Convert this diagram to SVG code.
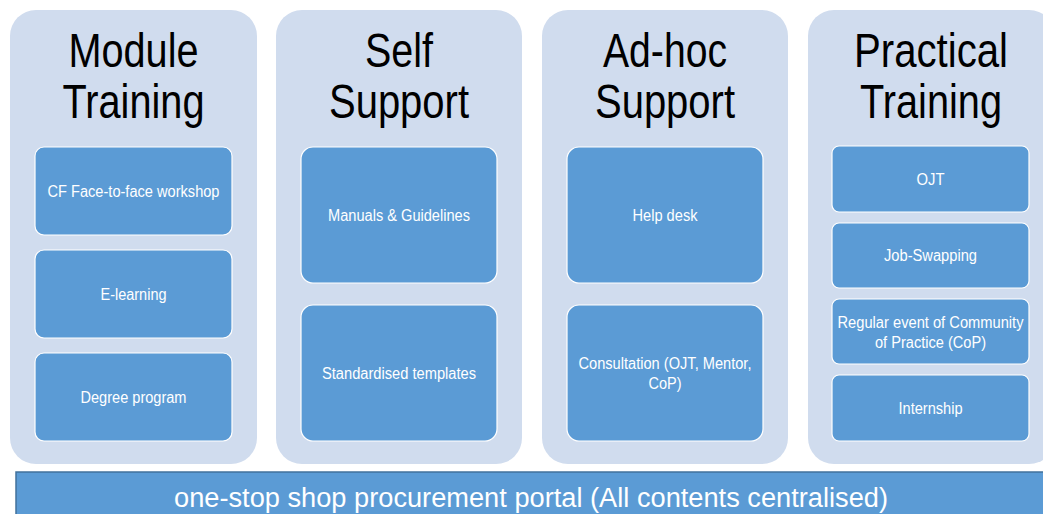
<svg xmlns="http://www.w3.org/2000/svg" width="1043" height="514" viewBox="0 0 1043 514">
<style>
.panel{fill:#d0dcee;}
.box{fill:#5b9bd5;stroke:#ffffff;stroke-width:1.2;}
.title{font-family:"Liberation Sans",Arial,sans-serif;font-size:48px;fill:#000000;text-anchor:middle;}
.lbl{font-family:"Liberation Sans",Arial,sans-serif;font-size:16px;fill:#ffffff;text-anchor:middle;}
.bar{fill:#5b9bd5;stroke:#41719c;stroke-width:1.5;}
.bartxt{font-family:"Liberation Sans",Arial,sans-serif;font-size:27px;fill:#ffffff;text-anchor:middle;}
</style>
<rect width="1043" height="514" fill="#ffffff"/>
<g id="panel-module-training">
<rect class="panel" x="10" y="10" width="247" height="454" rx="26"/>
<text class="title" x="133.5" y="67" textLength="130" lengthAdjust="spacingAndGlyphs">Module</text>
<text class="title" x="133.5" y="118" textLength="142" lengthAdjust="spacingAndGlyphs">Training</text>
</g>
<g id="node-cf-workshop">
<rect class="box" x="35" y="147" width="197" height="88" rx="9"/>
<text class="lbl" x="133.5" y="197" textLength="172" lengthAdjust="spacingAndGlyphs">CF Face-to-face workshop</text>
</g>
<g id="node-elearning">
<rect class="box" x="35" y="250" width="197" height="88" rx="9"/>
<text class="lbl" x="133.5" y="300" textLength="66" lengthAdjust="spacingAndGlyphs">E-learning</text>
</g>
<g id="node-degree">
<rect class="box" x="35" y="353" width="197" height="88" rx="9"/>
<text class="lbl" x="133.5" y="403" textLength="106" lengthAdjust="spacingAndGlyphs">Degree program</text>
</g>
<g id="panel-self-support">
<rect class="panel" x="276" y="10" width="246" height="454" rx="26"/>
<text class="title" x="399" y="67" textLength="68" lengthAdjust="spacingAndGlyphs">Self</text>
<text class="title" x="399" y="118" textLength="140" lengthAdjust="spacingAndGlyphs">Support</text>
</g>
<g id="node-manuals">
<rect class="box" x="301" y="147" width="196" height="136" rx="12"/>
<text class="lbl" x="399" y="221" textLength="142" lengthAdjust="spacingAndGlyphs">Manuals &amp; Guidelines</text>
</g>
<g id="node-templates">
<rect class="box" x="301" y="305" width="196" height="136" rx="12"/>
<text class="lbl" x="399" y="379" textLength="154" lengthAdjust="spacingAndGlyphs">Standardised templates</text>
</g>
<g id="panel-adhoc-support">
<rect class="panel" x="542" y="10" width="246" height="454" rx="26"/>
<text class="title" x="665" y="67" textLength="124" lengthAdjust="spacingAndGlyphs">Ad-hoc</text>
<text class="title" x="665" y="118" textLength="140" lengthAdjust="spacingAndGlyphs">Support</text>
</g>
<g id="node-helpdesk">
<rect class="box" x="567" y="147" width="196" height="136" rx="12"/>
<text class="lbl" x="665" y="221" textLength="65" lengthAdjust="spacingAndGlyphs">Help desk</text>
</g>
<g id="node-consultation">
<rect class="box" x="567" y="305" width="196" height="136" rx="12"/>
<text class="lbl" x="665" y="369" textLength="173" lengthAdjust="spacingAndGlyphs">Consultation (OJT, Mentor,</text>
<text class="lbl" x="665" y="389" textLength="33" lengthAdjust="spacingAndGlyphs">CoP)</text>
</g>
<g id="panel-practical-training">
<rect class="panel" x="808" y="10" width="247" height="454" rx="26"/>
<text class="title" x="931" y="67" textLength="154" lengthAdjust="spacingAndGlyphs">Practical</text>
<text class="title" x="931" y="118" textLength="142" lengthAdjust="spacingAndGlyphs">Training</text>
</g>
<g id="node-ojt">
<rect class="box" x="832" y="146" width="197" height="66" rx="7"/>
<text class="lbl" x="930.5" y="185" textLength="28" lengthAdjust="spacingAndGlyphs">OJT</text>
</g>
<g id="node-job-swapping">
<rect class="box" x="832" y="223" width="197" height="65" rx="7"/>
<text class="lbl" x="930.5" y="261" textLength="93" lengthAdjust="spacingAndGlyphs">Job-Swapping</text>
</g>
<g id="node-cop">
<rect class="box" x="832" y="299" width="197" height="65" rx="7"/>
<text class="lbl" x="930.5" y="328" textLength="186" lengthAdjust="spacingAndGlyphs">Regular event of Community</text>
<text class="lbl" x="930.5" y="348" textLength="111" lengthAdjust="spacingAndGlyphs">of Practice (CoP)</text>
</g>
<g id="node-internship">
<rect class="box" x="832" y="375" width="197" height="66" rx="7"/>
<text class="lbl" x="930.5" y="414" textLength="64" lengthAdjust="spacingAndGlyphs">Internship</text>
</g>
<g id="node-portal">
<rect class="bar" x="16" y="472" width="1040" height="50"/>
<text class="bartxt" x="531" y="507" textLength="714" lengthAdjust="spacingAndGlyphs">one-stop shop procurement portal (All contents centralised)</text>
</g>
<g id="connectors"/>
</svg>
